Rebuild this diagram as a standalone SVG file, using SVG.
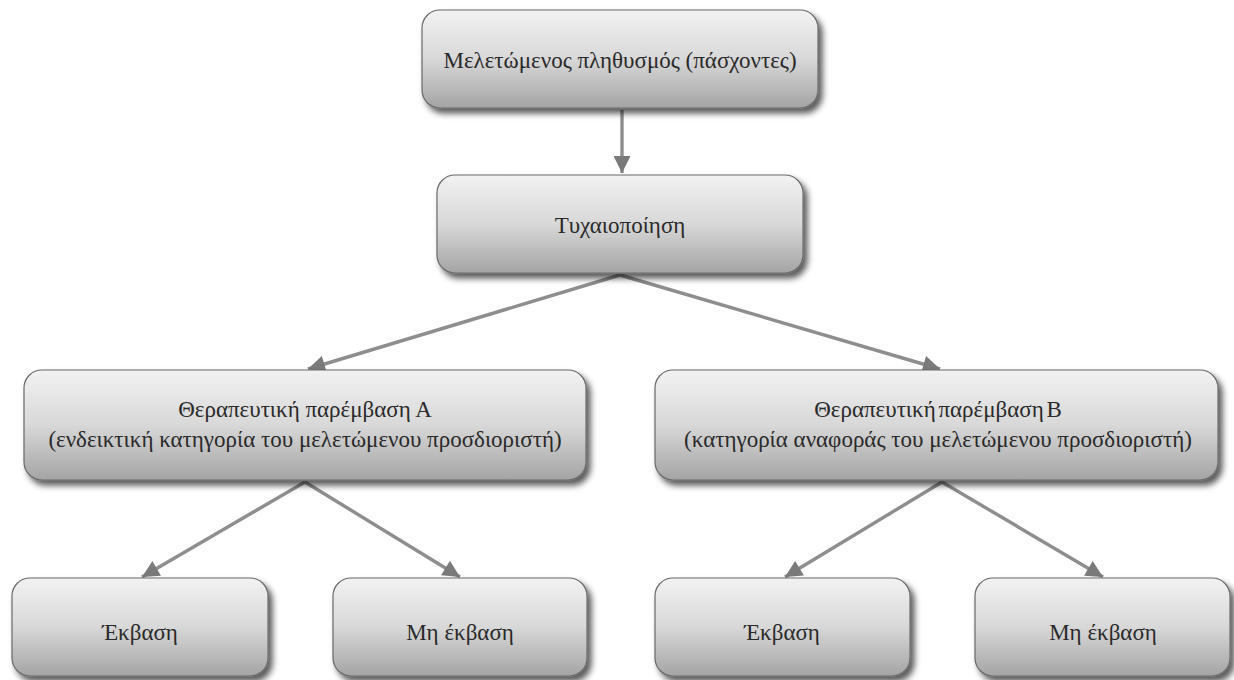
<svg xmlns="http://www.w3.org/2000/svg" width="1234" height="680" viewBox="0 0 1234 680">
<defs>
<linearGradient id="g" x1="0" y1="0" x2="0" y2="1">
<stop offset="0" stop-color="#f2f2f2"/>
<stop offset="0.5" stop-color="#d8d8d8"/>
<stop offset="1" stop-color="#a4a4a4"/>
</linearGradient>
<filter id="sh" x="-10%" y="-10%" width="125%" height="135%">
<feDropShadow dx="4" dy="5" stdDeviation="3" flood-color="#000" flood-opacity="0.65"/>
</filter>
<marker id="ah" viewBox="0 0 10 10" refX="10" refY="5" markerWidth="6" markerHeight="5" orient="auto" markerUnits="strokeWidth">
<path d="M0,0 L10,5 L0,10 z" fill="#7a7a7a"/>
</marker>
</defs>
<style>
.box{fill:url(#g);stroke:#6a6a6a;stroke-width:1.2;filter:url(#sh)}
.t{font-family:"Liberation Serif","DejaVu Serif",serif;font-size:23px;fill:#2a2a2a;text-anchor:middle}
.c{stroke:#8e8e8e;stroke-width:3.4;fill:none;marker-end:url(#ah)}
</style>
<g id="connectors">
<line class="c" x1="622" y1="110" x2="622" y2="173"/>
<line class="c" x1="620" y1="275" x2="308" y2="369"/>
<line class="c" x1="620" y1="275" x2="940" y2="369"/>
<line class="c" x1="305" y1="482" x2="142" y2="577"/>
<line class="c" x1="305" y1="482" x2="460" y2="577"/>
<line class="c" x1="942" y1="482" x2="785" y2="577"/>
<line class="c" x1="942" y1="482" x2="1103" y2="577"/>
</g>
<g id="n-pop">
<rect class="box" x="422" y="10" width="396" height="98" rx="18"/>
<text class="t" x="620" y="68">Μελετώμενος πληθυσμός (πάσχοντες)</text>
</g>
<g id="n-rand">
<rect class="box" x="437" y="175" width="366" height="98" rx="18"/>
<text class="t" x="620" y="233">Τυχαιοποίηση</text>
</g>
<g id="n-a">
<rect class="box" x="24" y="370" width="562" height="110" rx="18"/>
<text class="t" x="305" y="417">Θεραπευτική παρέμβαση Α</text>
<text class="t" x="305" y="447">(ενδεικτική κατηγορία του μελετώμενου προσδιοριστή)</text>
</g>
<g id="n-b">
<rect class="box" x="655" y="370" width="563" height="110" rx="18"/>
<text class="t" x="938" y="417" word-spacing="-3">Θεραπευτική παρέμβαση Β</text>
<text class="t" x="938" y="447">(κατηγορία αναφοράς του μελετώμενου προσδιοριστή)</text>
</g>
<g id="n-a1">
<rect class="box" x="12" y="578" width="256" height="98" rx="18"/>
<text class="t" x="140" y="640">Έκβαση</text>
</g>
<g id="n-a2">
<rect class="box" x="333" y="578" width="254" height="98" rx="18"/>
<text class="t" x="460" y="640">Μη έκβαση</text>
</g>
<g id="n-b1">
<rect class="box" x="655" y="578" width="255" height="98" rx="18"/>
<text class="t" x="782" y="640">Έκβαση</text>
</g>
<g id="n-b2">
<rect class="box" x="975" y="578" width="255" height="98" rx="18"/>
<text class="t" x="1103" y="640">Μη έκβαση</text>
</g>
</svg>
